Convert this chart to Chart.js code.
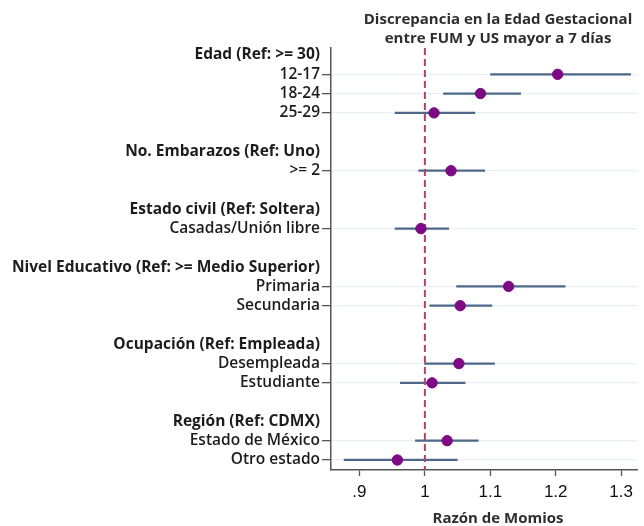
<!DOCTYPE html>
<html>
<head>
<meta charset="utf-8">
<script src="https://cdn.jsdelivr.net/npm/chart.js@4.4.1/dist/chart.umd.min.js"></script>
<style>
html,body{margin:0;padding:0;background:#fff;}
#wrap{width:644px;height:526px;position:relative;}
</style>
</head>
<body>
<div id="wrap"><canvas id="c" width="644" height="526"></canvas></div>
<script>
const categories = ["Edad (Ref: >= 30)","12-17","18-24","25-29","",
  "No. Embarazos (Ref: Uno)",">= 2","",
  "Estado civil (Ref: Soltera)","Casadas/Unión libre","",
  "Nivel Educativo (Ref: >= Medio Superior)","Primaria","Secundaria","",
  "Ocupación (Ref: Empleada)","Desempleada","Estudiante","",
  "Región (Ref: CDMX)","Estado de México","Otro estado"];
const headerRows = [0,5,8,11,15,19];
const oddsRatio = [null,1.203,1.085,1.014,null,null,1.040,null,null,0.994,null,null,1.128,1.054,null,null,1.052,1.011,null,null,1.034,0.958];
const ciLow     = [null,1.100,1.028,0.954,null,null,0.990,null,null,0.954,null,null,1.048,1.007,null,null,0.999,0.962,null,null,0.985,0.876];
const ciHigh    = [null,1.315,1.147,1.077,null,null,1.092,null,null,1.037,null,null,1.215,1.103,null,null,1.107,1.062,null,null,1.082,1.050];
const xTickValues = [0.9,1,1.1,1.2,1.3];
const xTickLabels = [".9","1","1.1","1.2","1.3"];
const refValue = 1;
const titleLines = ["Discrepancia en la Edad Gestacional","entre FUM y US mayor a 7 días"];
const xTitle = "Razón de Momios";

const yMin = -0.363, yMax = 21.52;
const xMin = 0.8565, xMax = 1.3255;

const rowIdx = categories.map((_, i) => i);
const dataRows = rowIdx.filter(i => oddsRatio[i] !== null);

const ciDatasets = dataRows.map(i => ({
  type: 'line',
  data: [{x: ciLow[i], y: i}, {x: ciHigh[i], y: i}],
  borderColor: '#4d6888',
  borderWidth: 2.2,
  pointRadius: 0,
  borderCapStyle: 'butt'
}));

const datasets = [
  {
    type: 'scatter',
    data: dataRows.map(i => ({x: oddsRatio[i], y: i})),
    backgroundColor: '#7d0a84',
    borderColor: '#7d0a84',
    pointRadius: 5.2,
    pointHoverRadius: 5.2
  },
  {
    type: 'line',
    data: [{x: refValue, y: yMin}, {x: refValue, y: yMax}],
    borderColor: '#b5406a',
    borderWidth: 2,
    borderDash: [7, 4],
    pointRadius: 0
  },
  ...ciDatasets
];

const titlePlugin = {
  id: 'titles',
  afterDraw(chart) {
    const ctx = chart.ctx;
    ctx.save();
    ctx.fillStyle = '#2e2e2e';
    ctx.textAlign = 'center';
    ctx.textBaseline = 'middle';
    ctx.font = '700 15px "Open Sans"';
    ctx.fillText(titleLines[0], 498, 20);
    ctx.fillText(titleLines[1], 498, 39);
    ctx.fillText(xTitle, 498, 519);
    ctx.restore();
  }
};

new Chart(document.getElementById('c'), {
  data: { datasets },
  options: {
    responsive: false,
    animation: false,
    layout: { padding: { top: 48, right: 0, bottom: 0, left: 0 } },
    plugins: { legend: { display: false }, tooltip: { enabled: false }, title: { display: false } },
    scales: {
      x: {
        type: 'linear',
        min: xMin, max: xMax,
        afterBuildTicks: s => { s.ticks = xTickValues.map(v => ({value: v})); },
        afterFit: s => { s.height = 56; },
        ticks: {
          callback: (v) => xTickLabels[xTickValues.indexOf(v)],
          font: { family: '"Liberation Sans", Arial', size: 17 },
          color: '#111',
          padding: 6,
          maxRotation: 0
        },
        grid: { drawOnChartArea: false, drawTicks: true, tickLength: 6, tickColor: '#555', tickWidth: 1.3 },
        border: { display: true, color: '#555', width: 1.5 }
      },
      y: {
        type: 'linear',
        reverse: true,
        min: yMin, max: yMax,
        afterBuildTicks: s => { s.ticks = rowIdx.map(v => ({value: v})); },
        afterFit: s => { s.width = 331; },
        ticks: {
          autoSkip: false,
          callback: (v) => categories[v],
          font: (c) => ({ family: '"Open Sans"', size: 15.5, weight: headerRows.includes(c.index) ? '700' : '600' }),
          color: '#1c1c1c',
          padding: 2
        },
        grid: {
          drawOnChartArea: true,
          tickLength: 9,
          lineWidth: 1.3,
          color: (c) => (c.tick && oddsRatio[c.tick.value] !== null && oddsRatio[c.tick.value] !== undefined) ? '#eaeff4' : 'rgba(0,0,0,0)',
          tickColor: (c) => (c.tick && oddsRatio[c.tick.value] !== null && oddsRatio[c.tick.value] !== undefined) ? '#555' : 'rgba(0,0,0,0)'
        },
        border: { display: true, color: '#555', width: 1.5 }
      }
    }
  },
  plugins: [titlePlugin]
});
</script>
</body>
</html>
